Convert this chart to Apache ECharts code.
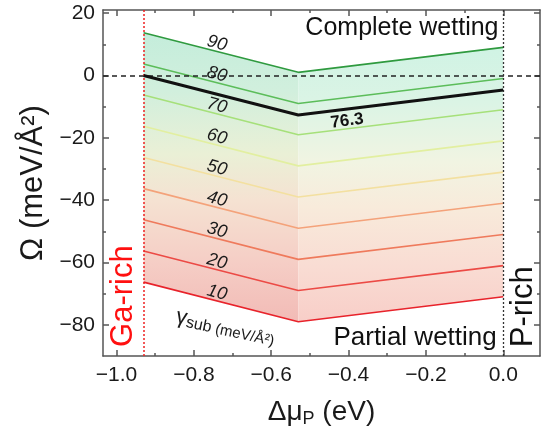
<!DOCTYPE html>
<html>
<head>
<meta charset="utf-8">
<script src="https://cdn.jsdelivr.net/npm/echarts@6/dist/echarts.min.js"></script>
<style>
html,body{margin:0;padding:0;background:#fff;}
#chartmain{width:550px;height:433px;}
</style>
</head>
<body>
<div id="chartmain"></div>
<script>
// delta mu_P break points
var xPoints = [-0.93, -0.53, 0.0];
var gammaList = [10, 20, 30, 40, 50, 60, 70, 80, 90];
// Omega for each gamma_sub (meV/A^2)
var omega10 = [-66.3, -79.0, -71.0];
var omega20 = [-56.3, -69.0, -61.0];
var omega30 = [-46.3, -59.0, -51.0];
var omega40 = [-36.3, -49.0, -41.0];
var omega50 = [-26.3, -39.0, -31.0];
var omega60 = [-16.3, -29.0, -21.0];
var omega70 = [-6.3, -19.0, -11.0];
var omega80 = [3.7, -9.0, -1.0];
var omega90 = [13.7, 1.0, 9.0];
// critical gamma 76.3
var omegaCrit = [0.0, -12.7, -4.7];

var xTicks = [-1.0, -0.8, -0.6, -0.4, -0.2, 0.0];
var xMinor = [-0.9, -0.7, -0.5, -0.3, -0.1];
var yTicks = [-80, -60, -40, -20, 0, 20];
var yMinor = [-70, -50, -30, -10, 10];

var omegaAll = [omega10, omega20, omega30, omega40, omega50, omega60, omega70, omega80, omega90];
var lineColors = ['#e8232b', '#ec4a45', '#ef7a5c', '#f4a27a', '#f3e0a0', '#e2efa0', '#a6e07a', '#5cbd5a', '#2f9a3f'];

var FONT = 'Liberation Sans, Arial, sans-serif';
var XMIN = -1.035, XMAX = 0.095, YMIN = -90, YMAX = 21;

function pts(arr){
	var out = [];
	for (var i = 0; i < xPoints.length; i++) out.push([xPoints[i], arr[i]]);
	return out;
}
function minus(v){ return String(v).replace('-', '\u2212'); }

function grad(stops){
	return new echarts.graphic.LinearGradient(0, 0, 0, 1, stops);
}
// left face a bit darker than right face
var faceFills = [
	[
		{offset: 0, color: '#c4eddb'},
		{offset: 0.2, color: '#d1efdd'},
		{offset: 0.42, color: '#eaf0d6'},
		{offset: 0.58, color: '#f5e2d2'},
		{offset: 0.8, color: '#f5cdc5'},
		{offset: 1, color: '#f2bbb6'}
	],
	[
		{offset: 0, color: '#d0f3e4'},
		{offset: 0.2, color: '#dbf4e5'},
		{offset: 0.42, color: '#f1f4e2'},
		{offset: 0.58, color: '#f8ebdb'},
		{offset: 0.8, color: '#f9dcd3'},
		{offset: 1, color: '#f8cec8'}
	]
];

var series = [];
// shaded band between gamma 10 and gamma 90
series.push({
	type: 'custom', silent: true, z: 1,
	data: [[0], [1]],
	renderItem: function(params, api){
		var f = api.value(0);
		var a = f, b = f + 1;
		var poly = [
			api.coord([xPoints[a], omega90[a]]),
			api.coord([xPoints[b], omega90[b]]),
			api.coord([xPoints[b], omega10[b]]),
			api.coord([xPoints[a], omega10[a]])
		];
		return {type: 'polygon', shape: {points: poly}, style: {fill: grad(faceFills[f]), stroke: null}};
	}
});

for (var i = 0; i < omegaAll.length; i++) {
	series.push({
		name: 'g' + gammaList[i], type: 'line', data: pts(omegaAll[i]),
		symbol: 'none', lineStyle: {color: lineColors[i], width: 1.6}, z: 3
	});
}

series.push({
	name: '76.3', type: 'line', data: pts(omegaCrit),
	symbol: 'none', lineStyle: {color: '#111', width: 3}, z: 5,
	markLine: {
		symbol: 'none', silent: true, label: {show: false},
		data: [
			{yAxis: 0, lineStyle: {type: [5, 4], color: '#222', width: 1.5}},
			{xAxis: -0.93, lineStyle: {type: [2, 2], color: '#ee2222', width: 1.5}},
			{xAxis: 0, lineStyle: {type: [2, 2], color: '#333', width: 1.3}}
		]
	}
});

// gamma labels on left face
var gammaLabelX = -0.74;
var gammaLabelY = [-69.7, -59.7, -49.7, -39.7, -29.7, -19.7, -9.7, 0.3, 10.3];
var gammaLabelData = [];
for (var j = 0; j < gammaList.length; j++) {
	gammaLabelData.push({value: [gammaLabelX, gammaLabelY[j]], name: String(gammaList[j])});
}
series.push({
	type: 'scatter', symbolSize: 0, silent: true, z: 6, data: gammaLabelData,
	itemStyle: {opacity: 1},
	label: {show: true, position: 'inside', formatter: '{b}', rotate: -15, textBorderWidth: 0, opacity: 1,
		fontFamily: FONT, fontStyle: 'italic', fontSize: 18, color: '#1a1a1a'}
});

function note(x, y, text, lab){
	var l = {show: true, position: 'inside', formatter: text, fontFamily: FONT, color: '#111', textBorderWidth: 0, opacity: 1};
	for (var k in lab) l[k] = lab[k];
	return {value: [x, y], label: l};
}
series.push({
	type: 'scatter', symbolSize: 0, silent: true, z: 7,
	itemStyle: {opacity: 1},
	data: [
		note(-0.404, -14.6, '76.3', {fontSize: 17, fontWeight: 'bold', rotate: 7}),
		note(-0.262, 15.3, 'Complete wetting', {fontSize: 25}),
		note(-0.228, -84.2, 'Partial wetting', {fontSize: 26}),
		note(-0.982, -70.8, 'Ga-rich', {fontSize: 31, rotate: 90, color: '#ff1010'}),
		note(0.053, -74.2, 'P-rich', {fontSize: 31, rotate: 90}),
		note(-0.718, -80.6, '{g|\u03b3}{s|sub}{u| (meV/\u00c5\u00b2)}', {rotate: -12,
			rich: {
				g: {fontSize: 22, fontFamily: FONT, color: '#1a1a1a', lineHeight: 24},
				s: {fontSize: 16, fontFamily: FONT, color: '#1a1a1a', lineHeight: 24, verticalAlign: 'bottom', padding: [8, 0, 0, 0]},
				u: {fontSize: 15, fontFamily: FONT, color: '#1a1a1a', lineHeight: 24, verticalAlign: 'bottom', padding: [6, 0, 0, 0]}
			}})
	]
});

var axisLineStyle = {color: '#555', width: 1.5};
function xAx(pos, ticks, len, showLine, showLabel, name){
	return {
		type: 'value', position: pos, min: XMIN, max: XMAX,
		axisLine: {show: showLine, onZero: false, lineStyle: axisLineStyle},
		axisTick: {show: true, inside: true, length: len, customValues: ticks, lineStyle: axisLineStyle},
		axisLabel: {show: showLabel, customValues: ticks, margin: 9, fontSize: 21, fontFamily: FONT, color: '#1a1a1a',
			formatter: function(v){ return minus(v.toFixed(1)); }},
		splitLine: {show: false},
		name: name || '', nameLocation: 'middle', nameGap: 40,
		nameTextStyle: {fontFamily: FONT, color: '#1a1a1a', fontSize: 28,
			rich: {a: {fontSize: 28, fontFamily: FONT, color: '#1a1a1a', lineHeight: 32},
				s: {fontSize: 18, fontFamily: FONT, color: '#1a1a1a', lineHeight: 32, verticalAlign: 'bottom', padding: [10, 0, 0, 0]}}}
	};
}
function yAx(pos, ticks, len, showLine, showLabel, name){
	return {
		type: 'value', position: pos, min: YMIN, max: YMAX,
		axisLine: {show: showLine, onZero: false, lineStyle: axisLineStyle},
		axisTick: {show: true, inside: true, length: len, customValues: ticks, lineStyle: axisLineStyle},
		axisLabel: {show: showLabel, customValues: ticks, margin: 8, fontSize: 21, fontFamily: FONT, color: '#1a1a1a',
			formatter: function(v){ return minus(v); }},
		splitLine: {show: false},
		name: name || '', nameLocation: 'middle', nameGap: 50,
		nameTextStyle: {fontFamily: FONT, color: '#1a1a1a', fontSize: 31}
	};
}

var option = {
	animation: false,
	backgroundColor: '#fff',
	grid: {left: 103, right: 10, top: 10, bottom: 70, containLabel: false},
	xAxis: [
		xAx('bottom', xTicks, 6, true, true, '{a|\u0394\u03bc}{s|P}{a| (eV)}'),
		xAx('bottom', xMinor, 3, false, false),
		xAx('top', xTicks, 6, true, false),
		xAx('top', xMinor, 3, false, false)
	],
	yAxis: [
		yAx('left', yTicks, 6, true, true, '\u03a9 (meV/\u00c5\u00b2)'),
		yAx('left', yMinor, 3, false, false),
		yAx('right', yTicks, 6, true, false),
		yAx('right', yMinor, 3, false, false)
	],
	series: series
};

var myChart = echarts.init(document.getElementById('chartmain'));
myChart.setOption(option);
</script>
</body>
</html>
